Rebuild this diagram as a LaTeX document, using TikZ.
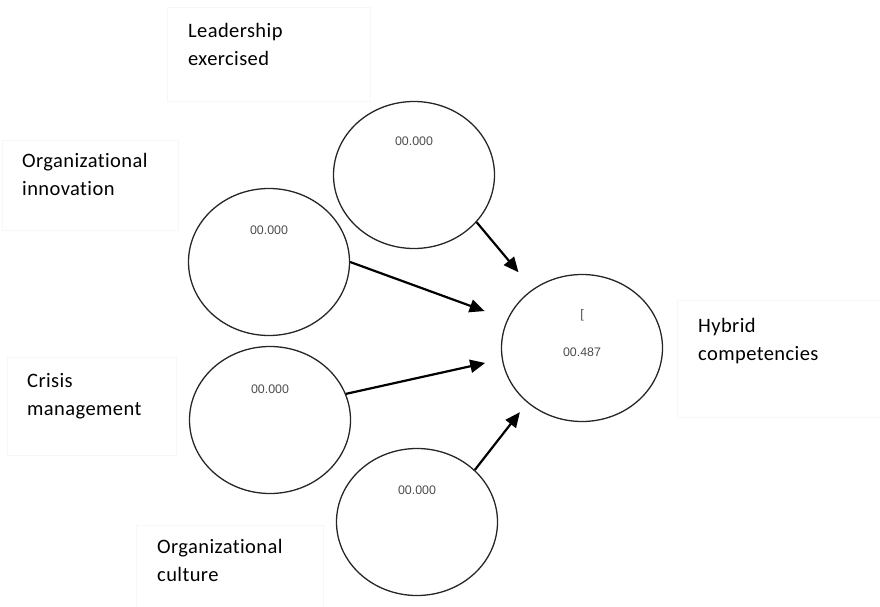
\documentclass[tikz,border=0pt]{standalone}
\usepackage{fontspec}
\setmainfont{Carlito}[LetterSpace=2, Ligatures={NoCommon}]
\newfontfamily\numfont{Liberation Sans}
\usetikzlibrary{shapes, arrows.meta, positioning, calc}

\begin{document}
\begin{tikzpicture}[
  x=1pt, y=-1pt,
  every node/.style={inner sep=0pt},
  construct/.style={ellipse, draw=black!85, line width=1.3pt, minimum width=161pt, minimum height=147pt},
  valtext/.style={font=\numfont\fontsize{12.4}{14}\selectfont, text=black!70},
  tbox/.style={draw=black!3, line width=0.8pt, anchor=north west},
  lbltext/.style={font=\fontsize{20.5}{28}\selectfont, align=left, anchor=base west},
  path arrow/.style={draw, -{Triangle[length=15pt, width=13pt]}, line width=2.2pt}
]
\useasboundingbox (0,0) rectangle (880,607);

% text frames
\node[tbox, minimum width=203pt, minimum height=94pt] (leadbox) at (167,7) {};
\node[tbox, minimum width=176pt, minimum height=90pt] (innovbox) at (2,140) {};
\node[tbox, minimum width=169pt, minimum height=98pt] (crisisbox) at (7,357) {};
\node[tbox, minimum width=187pt, minimum height=90pt] (culturebox) at (136,525) {};
\node[tbox, minimum width=210pt, minimum height=117pt] (hybbox) at (677,300) {};

% labels (base = last line)
\node[lbltext] (leadlbl) at (188,66) {Leadership\\exercised};
\node[lbltext] (innovlbl) at (22,195) {Organizational\\innovation};
\node[lbltext] (crisislbl) at (27,415) {Crisis\\management};
\node[lbltext] (culturelbl) at (157,581) {Organizational\\culture};
\node[lbltext] (hyblbl) at (698,360) {Hybrid\\competencies};

% constructs
\node[construct] (lead) at (414,175) {};
\node[construct] (innov) at (269,262) {};
\node[construct] (crisis) at (270,420) {};
\node[construct] (culture) at (417,522) {};
\node[construct] (hyb) at (582,348) {};

% values
\node[valtext] (leadval) at ([yshift=34pt]lead.center) {00.000};
\node[valtext] (innovval) at ([yshift=32pt]innov.center) {00.000};
\node[valtext] (crisisval) at ([yshift=31pt]crisis.center) {00.000};
\node[valtext] (cultureval) at ([yshift=32pt]culture.center) {00.000};
\node[valtext] (hybmark) at ([yshift=33pt]hyb.center) {[};
\node[valtext] (hybval) at ([yshift=-4pt]hyb.center) {00.487};

% paths
\draw[path arrow, shorten >=22pt] (lead.-37) -- (hyb.130);
\draw[path arrow, shorten >=24pt] (innov.east) -- (hyb.159);
\draw[path arrow, shorten >=17pt] (crisis.19) -- (hyb.188);
\draw[path arrow, shorten >=12pt] (culture.42) -- (hyb.225);

\end{tikzpicture}
\end{document}
